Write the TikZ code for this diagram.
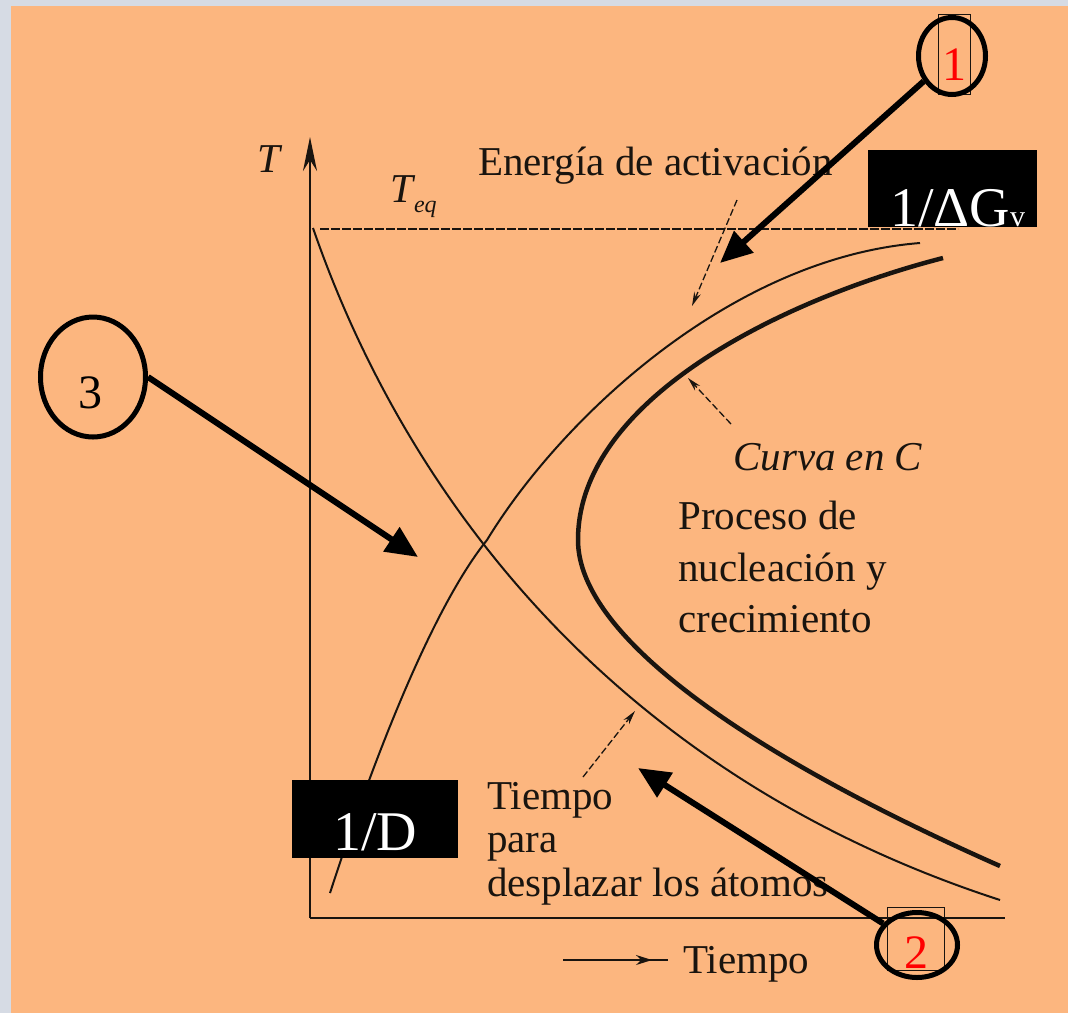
\documentclass[tikz,border=0pt]{standalone}
\usepackage{fontspec}
\setmainfont{Liberation Serif}
\usetikzlibrary{arrows.meta,shapes.geometric,positioning}
\definecolor{peach}{RGB}{252,182,127}
\definecolor{edgegray}{RGB}{214,219,228}
\definecolor{ink}{RGB}{25,20,15}

\tikzset{
  lbl/.style={font=\fontsize{41}{51.5}\selectfont, text=ink, inner sep=0pt, anchor=base west, align=left},
  blackbox/.style={fill=black, text=white, inner sep=0pt, anchor=north west, font=\fontsize{56}{60}\selectfont},
  ring/.style={draw, ellipse, line width=5pt, inner sep=0pt},
  digit/.style={font=\fontsize{48}{48}\selectfont, inner sep=0pt},
  bigarrow/.style={line width=6pt, -{Triangle[length=32pt,width=28pt]}},
  hint/.style={line width=1.3pt, ink, dash pattern=on 7pt off 3pt, -{Stealth[length=14pt,width=7pt]}},
  thincurve/.style={line width=2pt, ink},
  ccurve/.style={line width=4.5pt, ink},
}

\begin{document}
\begin{tikzpicture}[x=1pt,y=-1pt]
\useasboundingbox (0,0) rectangle (1068,1013);
\fill[edgegray] (0,0) rectangle (1068,1013);
\fill[peach] (11,6) rectangle (1068,1013);

% axes
\coordinate (O) at (310,918);
\coordinate (Ttop) at (310,137);
\coordinate (Tend) at (1005,918);
\draw[line width=2.5pt, ink, -{Stealth[length=34pt,width=14pt]}] (O) -- (Ttop);
\draw[line width=2.5pt, ink] (O) -- (Tend);
\coordinate (eq0) at (320,229);
\coordinate (eq1) at (958,229);
\draw[line width=1.2pt, ink, dash pattern=on 9pt off 2pt] (eq0) -- (eq1);

% curves
\coordinate (X) at (487,540);
\draw[thincurve] (313,228) .. controls (400,480) and (600,770) .. (1000,900);
\draw[thincurve] (330,893) .. controls (380,739) and (437,602) .. (X)
                 .. controls (560,420) and (730,258) .. (920,243);
\coordinate (nose) at (578,540);
\draw[ccurve] (943,258) .. controls (780,300) and (578,400) .. (nose)
              .. controls (578,640) and (760,760) .. (1000,866);

% labels
\node[lbl] (Tlab) at (257,172) {\itshape T};
\node[lbl] (Teq) at (390,202) {\itshape T\kern1pt\raisebox{-10pt}{\fontsize{24}{24}\selectfont eq}};
\node[lbl] (act) at (478,175) {Energía de activación};
\node[lbl] (curva) at (733,470) {\itshape Curva en C};
\node[lbl, anchor=north west] (nuc) at (678,501) {Proceso de\\nucleación y\\crecimiento};
\node[lbl, anchor=north west, font=\fontsize{41}{43.5}\selectfont] (desp) at (487,782) {Tiempo\\para\\desplazar los átomos};
\node[lbl] (tiempo) at (683,973) {Tiempo};

% small pointers
\coordinate (act0) at (737,200);
\coordinate (act1) at (692,306);
\draw[hint] (act0) -- (act1);
\coordinate (cur0) at (731,424);
\coordinate (cur1) at (688,378);
\draw[hint] (cur0) -- (cur1);
\coordinate (des0) at (583,777);
\coordinate (des1) at (635,711);
\draw[hint] (des0) -- (des1);

\coordinate (ti0) at (563,960);
\coordinate (ti1) at (652,960);
\coordinate (ti2) at (668,960);
\draw[line width=1.5pt, ink] (ti0) -- (ti2);
\draw[line width=1.5pt, ink, -{Stealth[length=16pt,width=10pt]}] (ti0) -- (ti1);

% black boxes
\node[blackbox, minimum width=169pt, text height=76pt, text depth=1pt] (gv) at (868,150) {\kern10pt1/ΔG{\fontsize{30}{30}\selectfont v}};
\node[blackbox, minimum width=166pt, text height=70pt, text depth=8pt] (invD) at (292,780) {1/D};

% numbered circles
\node[digit, text=red, draw=ink, line width=1pt, anchor=north west, minimum width=32pt, text height=66pt, text depth=14pt] (n1) at (938,14) {1};
\node[ring, minimum width=67pt, minimum height=77pt] (c1) at (952,56) {};
\node[digit, text=red, draw=ink, line width=1.2pt, anchor=north west, minimum width=57pt, text height=61pt, text depth=2pt] (n2) at (887,907) {2};
\node[ring, minimum width=81pt, minimum height=65pt] (c2) at (917,945) {};
\node[digit, text=black, anchor=base] (n3) at (90,408) {3};
\node[ring, minimum width=105pt, minimum height=120pt] (c3) at (93,377) {};

% big arrows
\coordinate (tip1) at (720,263);
\coordinate (tip2) at (638,768);
\coordinate (tip3) at (418,557);
\draw[bigarrow] (c1) -- (tip1);
\draw[bigarrow] (c2) -- (tip2);
\draw[bigarrow] (c3.east) -- (tip3);
\end{tikzpicture}
\end{document}
